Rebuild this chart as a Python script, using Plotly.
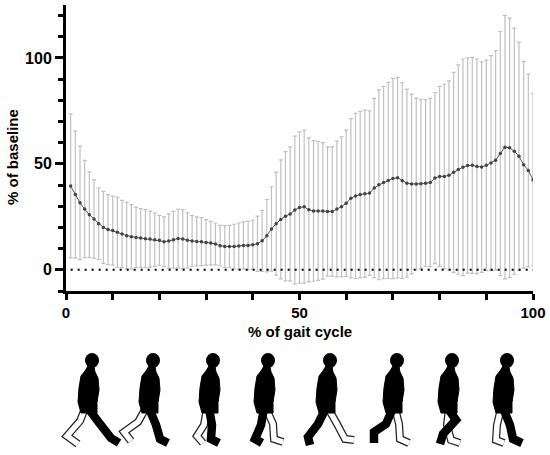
import plotly.graph_objects as go

# gait cycle (%) and mean / SD of the normalised signal (% of baseline)
gait = list(range(1, 101))
mean = [39.6, 35.5, 31.6, 28.7, 26.0, 24.0, 21.8, 20.0, 19.0, 18.5,
        17.7, 16.9, 16.1, 15.6, 15.3, 15.0, 14.7, 14.5, 14.2, 13.9,
        13.3, 13.6, 14.2, 14.8, 14.5, 13.9, 13.6, 13.4, 13.3, 12.9,
        12.6, 12.2, 11.4, 11.0, 11.0, 11.0, 11.2, 11.5, 11.5, 11.8,
        12.3, 13.7, 16.1, 19.3, 21.8, 23.8, 25.3, 26.4, 28.2, 29.4,
        29.8, 28.3, 27.8, 27.8, 27.8, 27.5, 27.5, 28.7, 29.8, 31.4,
        33.8, 34.9, 35.5, 35.9, 36.2, 38.6, 40.1, 41.2, 42.2, 43.1,
        43.5, 42.1, 40.9, 40.5, 40.5, 40.6, 40.9, 41.2, 43.3, 44.1,
        44.1, 44.6, 46.0, 47.3, 48.4, 49.2, 49.3, 48.8, 48.5, 49.3,
        50.4, 51.7, 54.9, 57.9, 57.6, 56.0, 53.6, 49.6, 46.9, 42.5]
sd = [34.0, 30.0, 26.8, 23.0, 20.2, 18.5, 16.9, 17.0, 16.5, 16.3,
      16.5, 15.9, 15.7, 15.2, 14.3, 13.9, 13.7, 13.2, 12.6, 11.8,
      11.7, 12.8, 13.4, 13.9, 13.9, 13.0, 12.0, 11.6, 11.3, 10.8,
      10.3, 9.9, 9.6, 9.9, 10.0, 10.5, 10.9, 11.1, 11.4, 11.6,
      13.0, 14.4, 17.1, 19.9, 24.3, 28.1, 30.5, 31.6, 34.9, 35.7,
      36.1, 34.0, 33.2, 32.8, 32.2, 30.5, 30.5, 32.0, 33.0, 34.5,
      37.6, 39.0, 39.3, 39.5, 38.8, 42.3, 44.8, 45.4, 46.3, 47.3,
      47.3, 46.2, 44.4, 42.4, 40.5, 39.9, 39.3, 39.7, 40.4, 42.5,
      43.5, 44.6, 47.2, 49.4, 51.1, 50.8, 51.0, 50.7, 49.7, 49.7,
      50.7, 51.8, 57.6, 62.2, 61.2, 58.1, 53.9, 48.8, 45.5, 40.7]
x_ticks = [0, 50, 100]
y_ticks = [0, 50, 100]

FONT = "Liberation Sans"
W, H = 550, 455
ML, MR, MT, MB = 66, 17, 5, 164
PW, PH = W - ML - MR, H - MT - MB


def px(x, y):
    # pixel position -> paper coords
    return (x - ML) / PW, (H - MB - y) / PH


def path_of(pts, close=False):
    s = ""
    for i, (x, y) in enumerate(pts):
        a, b = px(x, y)
        s += ("M" if i == 0 else "L") + "%.4f,%.4f " % (a, b)
    return s + ("Z" if close else "")


# walking figures under the chart (rough silhouettes)
heads = [92, 153, 213, 268, 330, 397, 452, 507]
black_legs = [
    [(88, 408), (100, 424), (111, 438), (119, 443)],
    [(149, 408), (156, 425), (160, 439), (168, 443)],
    [(209, 408), (212, 425), (211, 439), (219, 443)],
    [(264, 408), (261, 425), (255, 439), (262, 443)],
    [(326, 408), (318, 424), (308, 437), (310, 445)],
    [(393, 408), (386, 424), (374, 432), (374, 443)],
    [(447, 407), (456, 420), (443, 434), (440, 444)],
    [(503, 408), (510, 425), (513, 439), (522, 443)],
]
white_legs = [
    [(86, 406), (80, 421), (67, 436), (78, 444)],
    [(147, 406), (138, 422), (124, 432), (131, 441)],
    [(207, 408), (204, 425), (197, 436), (203, 443)],
    [(266, 408), (273, 424), (274, 439), (283, 442)],
    [(328, 408), (337, 424), (345, 439), (354, 440)],
    [(395, 408), (399, 424), (400, 439), (409, 443)],
    [(449, 408), (447, 425), (451, 440), (460, 443)],
    [(501, 408), (497, 425), (496, 440), (504, 443)],
]
torso_rel = [(-4, 366), (2, 367), (3, 372), (6, 378), (7, 390), (5, 402), (5, 413),
             (-11, 413), (-14, 402), (-13, 388), (-11, 376), (-7, 371)]

shapes = []
for cx, bl, wl in zip(heads, black_legs, white_legs):
    shapes.append(dict(type="path", xref="paper", yref="paper", path=path_of(wl),
                       line=dict(color="#222222", width=8)))
    shapes.append(dict(type="path", xref="paper", yref="paper", path=path_of(wl),
                       line=dict(color="white", width=5.5)))
    shapes.append(dict(type="path", xref="paper", yref="paper",
                       path=path_of([(cx + dx, y) for dx, y in torso_rel], close=True),
                       fillcolor="black", line=dict(color="black", width=1)))
    shapes.append(dict(type="path", xref="paper", yref="paper", path=path_of(bl),
                       line=dict(color="black", width=8.5)))
    shapes.append(dict(type="path", xref="paper", yref="paper",
                       path=path_of([(cx - 5, 375), (cx - 2, 391), (cx + 4, 402)]),
                       line=dict(color="black", width=5)))
    x0, y0 = px(cx - 7, 353)
    x1, y1 = px(cx + 7, 368)
    shapes.append(dict(type="circle", xref="paper", yref="paper",
                       x0=x0, y0=y0, x1=x1, y1=y1,
                       fillcolor="black", line=dict(color="black", width=0)))

fig = go.Figure()
fig.add_trace(go.Scatter(
    x=gait, y=mean, mode="lines+markers",
    line=dict(color="#555555", width=1),
    marker=dict(color="#444444", size=3.5),
    error_y=dict(type="data", array=sd, symmetric=True,
                 color="#c0c0c0", thickness=1.2, width=2),
    showlegend=False,
))
fig.add_trace(go.Scatter(
    x=[gait[0], gait[-1]], y=[0, 0], mode="lines",
    line=dict(color="black", width=2, dash="2px,5px"),
    showlegend=False,
))

fig.update_layout(
    width=W, height=H,
    margin=dict(l=ML, r=MR, t=MT, b=MB),
    paper_bgcolor="white", plot_bgcolor="white",
    font=dict(family=FONT, color="black"),
    shapes=shapes,
    annotations=[
        dict(text="% of baseline", xref="paper", yref="paper",
             x=px(12, 0)[0], y=px(0, 157)[1], textangle=-90, showarrow=False,
             xanchor="center", yanchor="middle",
             font=dict(family=FONT, size=15, color="black", weight="bold")),
        dict(text="% of gait cycle", xref="paper", yref="paper",
             x=0.5, y=px(0, 331)[1], showarrow=False,
             xanchor="center", yanchor="middle",
             font=dict(family=FONT, size=15, color="black", weight="bold")),
    ],
)
fig.update_xaxes(
    range=[0, 100], showgrid=False, zeroline=False,
    showline=True, linecolor="black", linewidth=3,
    tickmode="array", tickvals=x_ticks, ticktext=[str(v) for v in x_ticks],
    ticks="outside", ticklen=6, tickwidth=2.5, tickcolor="black",
    minor=dict(dtick=10, ticks="outside", ticklen=6, tickwidth=2.5, tickcolor="black"),
    tickfont=dict(family=FONT, size=15, color="black", weight="bold"),
)
fig.update_yaxes(
    range=[-10, 125], showgrid=False, zeroline=False,
    showline=True, linecolor="black", linewidth=3,
    tickmode="array", tickvals=y_ticks, ticktext=[str(v) for v in y_ticks],
    ticks="outside", ticklen=8, tickwidth=2.5, tickcolor="black",
    minor=dict(dtick=10, tick0=0, ticks="outside", ticklen=5, tickwidth=2.5, tickcolor="black"),
    tickfont=dict(family=FONT, size=16, color="black", weight="bold"),
)

# drop the page's default body margin so the figure sits at the window's corner
fig.write_html("out.html", config={"displayModeBar": False},
               post_script="document.body.style.margin='0';")
